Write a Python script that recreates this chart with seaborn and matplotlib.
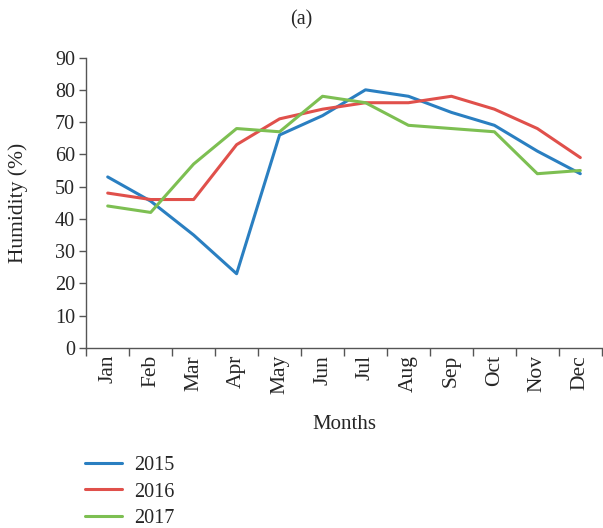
import numpy as np
import pandas as pd
import matplotlib
matplotlib.use("Agg")
import matplotlib.pyplot as plt
import seaborn as sns

months = ["Jan", "Feb", "Mar", "Apr", "May", "Jun",
          "Jul", "Aug", "Sep", "Oct", "Nov", "Dec"]
hum_2015 = [53, 45.5, 35, 23, 66, 72, 80, 78, 73, 69, 61, 54]
hum_2016 = [48, 46, 46, 63, 71, 74, 76, 76, 78, 74, 68, 59]
hum_2017 = [44, 42, 57, 68, 67, 78, 76, 69, 68, 67, 54, 55]
years = ["2015", "2016", "2017"]
colors = ["#2a7fc1", "#e0504b", "#7dbf52"]


def main():
    df = pd.DataFrame({
        "Month": months * 3,
        "Humidity": hum_2015 + hum_2016 + hum_2017,
        "Year": [y for y in years for _ in months],
    })

    sns.set_style("white")
    plt.rcParams["font.family"] = ["Liberation Serif", "DejaVu Serif"]
    plt.rcParams["font.size"] = 14.5

    fig = plt.figure(figsize=(6.03, 5.28), dpi=100)
    ax = fig.add_axes([0.143, 0.341, 0.855, 0.550])

    sns.lineplot(data=df, x="Month", y="Humidity", hue="Year",
                 palette=colors, linewidth=2.2, sort=False, ax=ax, legend=True)

    ax.set_xlim(-0.5, 11.5)
    ax.set_ylim(0, 90)
    ax.set_yticks(range(0, 91, 10))

    # ticks at category boundaries, labels at centers
    ax.set_xticks(np.arange(-0.5, 12, 1))
    ax.set_xticklabels([])
    ax.set_xticks(np.arange(12), minor=True)
    ax.set_xticklabels(months, minor=True, rotation=90, fontsize=15.5)
    ax.tick_params(axis="x", which="major", direction="out", length=6,
                   width=1, color="#555555", bottom=True)
    ax.tick_params(axis="x", which="minor", length=0, pad=5, bottom=True)
    ax.tick_params(axis="y", direction="out", length=5, width=1,
                   color="#555555", left=True, pad=3, labelsize=14.5)

    for s in ["top", "right"]:
        ax.spines[s].set_visible(False)
    for s in ["left", "bottom"]:
        ax.spines[s].set_color("#555555")
        ax.spines[s].set_linewidth(1)

    ax.set_xlabel("Months", fontsize=15)
    ax.set_ylabel("Humidity (%)", fontsize=15.5)
    ax.xaxis.set_label_coords(0.5, -0.232)
    ax.yaxis.set_label_coords(-0.113, 0.5)
    fig.text(0.5, 0.962, "(a)", ha="center", va="center", fontsize=14.5)

    handles, labels = ax.get_legend_handles_labels()
    ax.get_legend().remove()
    fig.legend(handles, labels, loc="upper left", bbox_to_anchor=(0.141, 0.137),
               frameon=False, handlelength=1.85, handletextpad=0.6,
               labelspacing=0.38, borderaxespad=0, borderpad=0, fontsize=14.5)

    fig.savefig("out.png", dpi=100)
    plt.close(fig)


if __name__ == "__main__":
    main()
